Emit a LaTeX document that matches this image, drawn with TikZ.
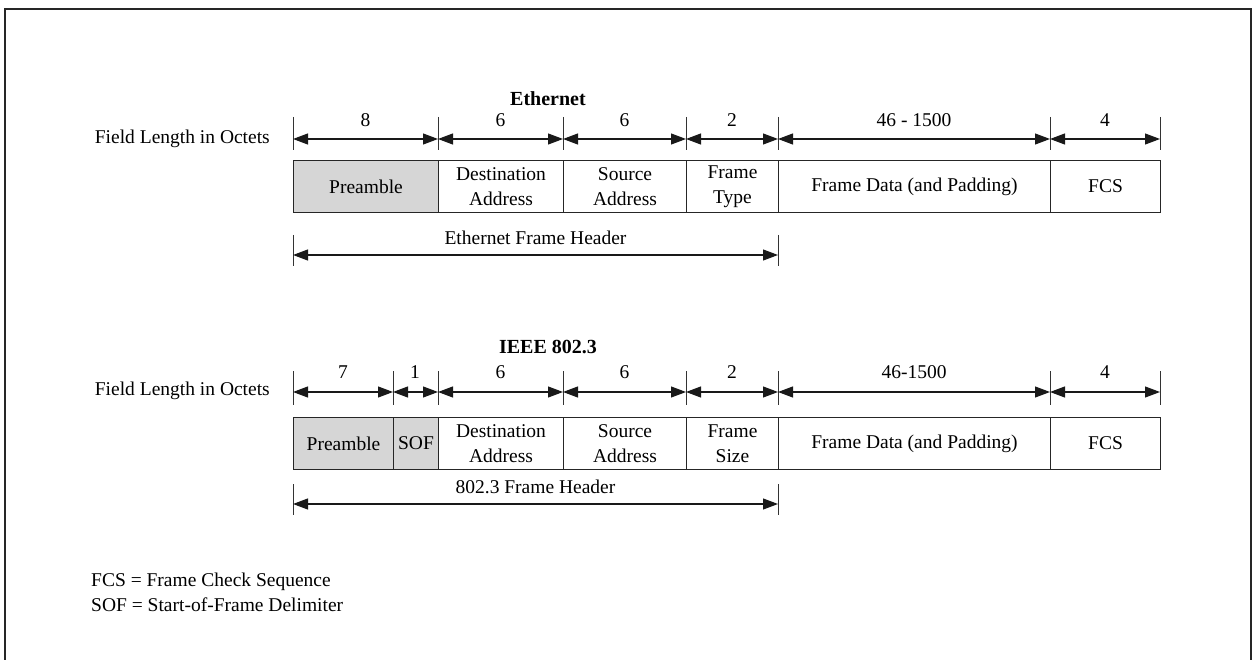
\documentclass[tikz,border=0pt]{standalone}
\usepackage{fontspec}
\setmainfont{Liberation Serif}
\usetikzlibrary{arrows.meta}
\begin{document}
\begin{tikzpicture}[x=1pt,y={(0pt,-1pt)},
  every node/.style={font=\fontsize{19.5}{25}\selectfont, inner sep=0pt},
  box/.style={draw=black!85, line width=1pt, anchor=north west, align=center},
  shade/.style={fill=black!16},
  dim/.style={line width=1.1pt, black!90, {Triangle[length=15pt,width=11pt]}-{Triangle[length=15pt,width=11pt]}},
  tick/.style={line width=1pt, black!80},
  ttl/.style={font=\fontsize{20}{24}\selectfont\bfseries},
  lbl/.style={anchor=east}
]
\useasboundingbox (0,0) rectangle (1255,660);
\draw[line width=1.8pt, black!85] (5,660) -- (5,9) -- (1251,9) -- (1251,660);

% ---------- Ethernet ----------
\node[ttl] (t1) at (548,99) {Ethernet};
\node[lbl] (fl1) at (270,139) {Field Length in Octets};

\foreach \n/\x in {a/293,b/438,c/563,d/686,e/778,f/1050,g/1160}{
  \coordinate (e\n u) at (\x,117);
  \coordinate (e\n d) at (\x,150);
  \coordinate (e\n) at (\x,139);
  \draw[tick] (e\n u) -- (e\n d);
}
\draw[dim] (ea) -- (eb); \draw[dim] (eb) -- (ec); \draw[dim] (ec) -- (ed);
\draw[dim] (ed) -- (ee); \draw[dim] (ee) -- (ef); \draw[dim] (ef) -- (eg);
\node (n1) at (365.5,120) {8};
\node (n2) at (500.5,120) {6};
\node (n3) at (624.5,120) {6};
\node (n4) at (732,120) {2};
\node (n5) at (914,120) {46 - 1500};
\node (n6) at (1105,120) {4};

\node[box,shade,minimum width=145pt,minimum height=52pt] (epre) at (293,160) {Preamble};
\node[box,minimum width=125pt,minimum height=52pt] (edst) at (438,160) {Destination\\Address};
\node[box,minimum width=123pt,minimum height=52pt] (esrc) at (563,160) {Source\\Address};
\node[box,minimum width=92pt,minimum height=52pt] (etyp) at (686,160) {Frame\\Type};
\node[box,minimum width=272pt,minimum height=52pt] (edat) at (778,160) {Frame Data (and Padding)};
\node[box,minimum width=110pt,minimum height=52pt] (efcs) at (1050,160) {FCS};

\coordinate (eh1u) at (293,235); \coordinate (eh1d) at (293,266); \coordinate (eh1) at (293,255);
\coordinate (eh2u) at (778,235); \coordinate (eh2d) at (778,266); \coordinate (eh2) at (778,255);
\draw[tick] (eh1u) -- (eh1d); \draw[tick] (eh2u) -- (eh2d);
\draw[dim] (eh1) -- (eh2);
\node (ehl) at (535.5,238) {Ethernet Frame Header};

% ---------- IEEE 802.3 ----------
\node[ttl] (t2) at (548,347) {IEEE 802.3};
\node[lbl] (fl2) at (270,391) {Field Length in Octets};

\foreach \n/\x in {a/293,s/393,b/438,c/563,d/686,e/778,f/1050,g/1160}{
  \coordinate (i\n u) at (\x,371);
  \coordinate (i\n d) at (\x,405);
  \coordinate (i\n) at (\x,392);
  \draw[tick] (i\n u) -- (i\n d);
}
\draw[dim] (ia) -- (is); \draw[dim] (is) -- (ib); \draw[dim] (ib) -- (ic);
\draw[dim] (ic) -- (id); \draw[dim] (id) -- (ie); \draw[dim] (ie) -- (if); \draw[dim] (if) -- (ig);
\node (m0) at (343,372) {7};
\node (m1) at (415,372) {1};
\node (m2) at (500.5,372) {6};
\node (m3) at (624.5,372) {6};
\node (m4) at (732,372) {2};
\node (m5) at (914,372) {46-1500};
\node (m6) at (1105,372) {4};

\node[box,shade,minimum width=100pt,minimum height=52pt] (ipre) at (293,417) {Preamble};
\node[box,shade,minimum width=45pt,minimum height=52pt] (isof) at (393,417) {SOF};
\node[box,minimum width=125pt,minimum height=52pt] (idst) at (438,417) {Destination\\Address};
\node[box,minimum width=123pt,minimum height=52pt] (isrc) at (563,417) {Source\\Address};
\node[box,minimum width=92pt,minimum height=52pt] (isiz) at (686,417) {Frame\\Size};
\node[box,minimum width=272pt,minimum height=52pt] (idat) at (778,417) {Frame Data (and Padding)};
\node[box,minimum width=110pt,minimum height=52pt] (ifcs) at (1050,417) {FCS};

\coordinate (ih1u) at (293,484); \coordinate (ih1d) at (293,515); \coordinate (ih1) at (293,504);
\coordinate (ih2u) at (778,484); \coordinate (ih2d) at (778,515); \coordinate (ih2) at (778,504);
\draw[tick] (ih1u) -- (ih1d); \draw[tick] (ih2u) -- (ih2d);
\draw[dim] (ih1) -- (ih2);
\node (ihl) at (535.5,487) {802.3 Frame Header};

% ---------- Legend ----------
\node[anchor=west] (lg1) at (91,582) {FCS = Frame Check Sequence};
\node[anchor=west] (lg2) at (91,605) {SOF = Start-of-Frame Delimiter};
\end{tikzpicture}
\end{document}
